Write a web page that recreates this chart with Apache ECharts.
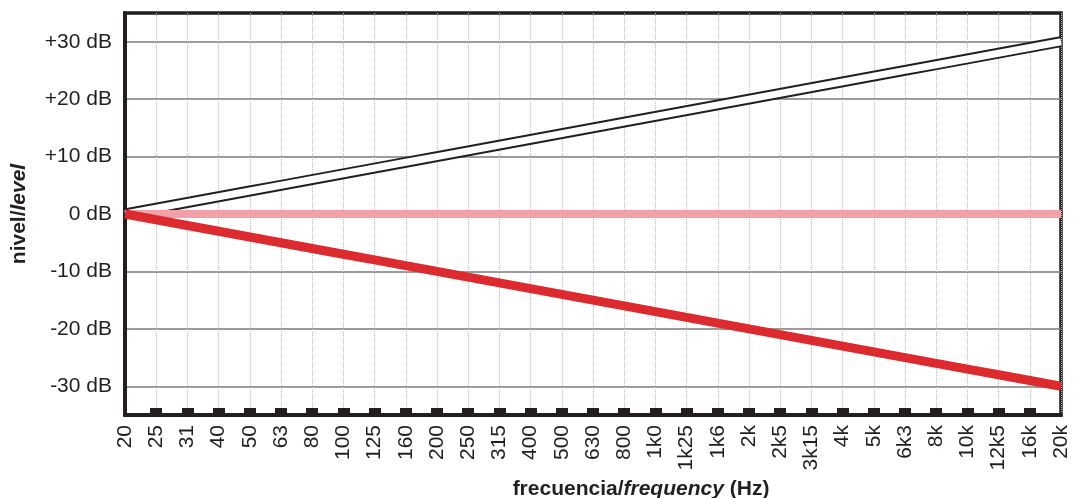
<!DOCTYPE html>
<html>
<head>
<meta charset="utf-8">
<script src="https://cdn.jsdelivr.net/npm/echarts@6/dist/echarts.min.js"></script>
<style>html,body{margin:0;padding:0;background:#fff;}#c{width:1077px;height:498px;}</style>
</head>
<body>
<div id="c"></div>
<script>
// third-octave band labels
const freqLabels = ['20','25','31','40','50','63','80','100','125','160','200','250','315','400','500','630','800','1k0','1k25','1k6','2k','2k5','3k15','4k','5k','6k3','8k','10k','12k5','16k','20k'];
// level curves (dB)
const boostValues = [0,1,2,3,4,5,6,7,8,9,10,11,12,13,14,15,16,17,18,19,20,21,22,23,24,25,26,27,28,29,30];
const flatValues  = [0,0,0,0,0,0,0,0,0,0,0,0,0,0,0,0,0,0,0,0,0,0,0,0,0,0,0,0,0,0,0];
const cutValues   = [0,-1,-2,-3,-4,-5,-6,-7,-8,-9,-10,-11,-12,-13,-14,-15,-16,-17,-18,-19,-20,-21,-22,-23,-24,-25,-26,-27,-28,-29,-30];
// y tick labels
const yTicks = [-30,-20,-10,0,10,20,30];
const yTickLabels = ['-30 dB','-20 dB','-10 dB','0 dB','+10 dB','+20 dB','+30 dB'];

const ink = '#231f20';
const font = 'Liberation Sans, Arial, sans-serif';
const chart = echarts.init(document.getElementById('c'), null, {renderer: 'canvas'});
chart.setOption({
  animation: false,
  backgroundColor: '#fff',
  grid: {left: 125, right: 16, top: 13, bottom: 83, containLabel: false, outerBoundsMode: 'none',
         show: true, borderColor: ink, borderWidth: 3.5, backgroundColor: 'transparent'},
  xAxis: {
    type: 'category',
    data: freqLabels,
    boundaryGap: false,
    name: '{a|frecuencia/}{b|frequency}{a| (Hz)}',
    nameLocation: 'middle',
    nameGap: 62,
    nameTextStyle: {
      padding: [0, 0, 0, 96],
      rich: {
        a: {fontFamily: font, fontSize: 21, fontWeight: 'bold', color: ink},
        b: {fontFamily: font, fontSize: 21, fontWeight: 'bold', fontStyle: 'italic', color: ink}
      }
    },
    axisLine: {show: true, onZero: false, lineStyle: {color: ink, width: 4}},
    axisTick: {show: true, inside: true, length: 7,
               interval: function (i) { return i > 0 && i < freqLabels.length - 1; },
               lineStyle: {color: ink, width: 12}},
    axisLabel: {interval: 0, rotate: 90, margin: 10, fontFamily: font, fontSize: 21, color: ink},
    splitLine: {show: true, interval: 0, lineStyle: {color: '#bdbdbd', width: 1, type: 'dotted'}}
  },
  yAxis: {
    type: 'value',
    min: -35,
    max: 35,
    interval: 5,
    name: '{a|nivel/}{b|level}',
    nameLocation: 'middle',
    nameGap: 95,
    nameTextStyle: {
      rich: {
        a: {fontFamily: font, fontSize: 21, fontWeight: 'bold', color: ink},
        b: {fontFamily: font, fontSize: 21, fontWeight: 'bold', fontStyle: 'italic', color: ink}
      }
    },
    axisLine: {show: true, lineStyle: {color: ink, width: 4}},
    axisTick: {show: false},
    axisLabel: {
      margin: 13, fontFamily: font, fontSize: 21, color: ink,
      formatter: function (v) { const i = yTicks.indexOf(v); return i >= 0 ? yTickLabels[i] : ''; }
    },
    splitLine: {show: true, lineStyle: {color: ['rgba(0,0,0,0)', '#7a7a7a'], width: 1.5}}
  },
  series: [
    {type: 'line', data: boostValues, symbol: 'none', lineStyle: {color: ink, width: 11}, z: 2},
    {type: 'line', data: boostValues, symbol: 'none', lineStyle: {color: '#ffffff', width: 7}, z: 3},
    {type: 'line', data: flatValues, symbol: 'none', lineStyle: {color: '#f2a1a8', width: 8}, z: 4},
    {type: 'line', data: cutValues, symbol: 'none', lineStyle: {color: '#dc2a2e', width: 9}, z: 5}
  ]
});
</script>
</body>
</html>
